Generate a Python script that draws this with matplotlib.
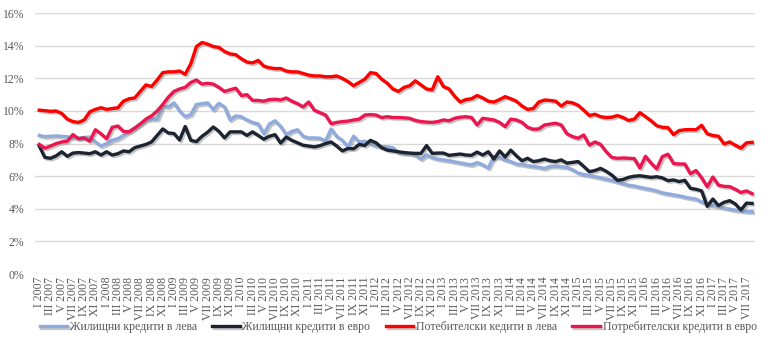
import matplotlib
matplotlib.use("Agg")
import matplotlib.pyplot as plt
import matplotlib.patheffects as pe
import numpy as np

# monthly interest rates, %, I 2007 - VIII 2017
housing_bgn = [
    8.5, 8.43, 8.45, 8.47, 8.45, 8.42, 8.38, 8.33, 8.38, 8.4, 8.1, 7.85,
    8.0, 8.2, 8.3, 8.5, 8.75, 8.95, 9.2, 9.45, 9.5, 9.5, 10.3, 10.25,
    10.5, 10.0, 9.65, 9.78, 10.4, 10.45, 10.5, 10.08, 10.47, 10.25, 9.45, 9.7,
    9.65, 9.45, 9.3, 9.2, 8.6, 9.2, 9.4, 9.05, 8.55, 8.75, 8.85, 8.45,
    8.35, 8.35, 8.33, 8.15, 8.9, 8.43, 8.2, 7.8, 8.45, 8.1, 8.15, 8.0,
    7.85, 7.82, 7.8, 7.75, 7.45, 7.4, 7.38, 7.3, 7.05, 7.3, 7.15, 7.05,
    7.0, 6.95, 6.88, 6.82, 6.75, 6.7, 6.84, 6.7, 6.5, 7.2, 7.15, 7.0,
    6.9, 6.75, 6.72, 6.65, 6.6, 6.55, 6.48, 6.6, 6.62, 6.58, 6.55, 6.4,
    6.2, 6.1, 6.05, 5.97, 5.9, 5.82, 5.75, 5.65, 5.55, 5.45, 5.4, 5.32,
    5.25, 5.18, 5.1, 4.98, 4.92, 4.86, 4.8, 4.72, 4.65, 4.6, 4.42, 4.3,
    4.2, 4.15, 4.05, 3.98, 3.92, 3.88, 3.83, 3.82,
]
housing_eur = [
    7.85, 7.15, 7.1, 7.25, 7.5, 7.22, 7.42, 7.45, 7.42, 7.38, 7.5, 7.3,
    7.5, 7.3, 7.38, 7.55, 7.5, 7.75, 7.85, 7.95, 8.1, 8.5, 8.9, 8.65,
    8.62, 8.22, 9.05, 8.2, 8.12, 8.45, 8.7, 9.02, 8.75, 8.35, 8.72, 8.72,
    8.72, 8.5, 8.72, 8.5, 8.27, 8.45, 8.55, 8.03, 8.4, 8.2, 8.05, 7.9,
    7.85, 7.8, 7.87, 8.0, 8.1, 7.85, 7.55, 7.7, 7.68, 7.95, 7.88, 8.2,
    8.05, 7.75, 7.6, 7.55, 7.5, 7.45, 7.42, 7.4, 7.4, 7.88, 7.4, 7.42,
    7.42, 7.28, 7.32, 7.36, 7.3, 7.28, 7.48, 7.3, 7.5, 7.05, 7.55, 7.18,
    7.6, 7.25, 6.95, 7.1, 6.9, 6.95, 7.05, 6.95, 6.9, 7.0, 6.8, 6.85,
    6.9, 6.6, 6.28, 6.35, 6.48, 6.3, 6.07, 5.75, 5.8, 5.93, 6.0, 6.03,
    5.98, 5.93, 5.97, 5.9, 5.73, 5.77, 5.67, 5.75, 5.26, 5.2, 5.1, 4.15,
    4.6, 4.2, 4.4, 4.5, 4.3, 3.93, 4.35, 4.33,
]
consumer_bgn = [
    10.05, 10.02, 9.98, 10.0, 9.85, 9.5, 9.35, 9.3, 9.45, 9.95, 10.1, 10.2,
    10.1, 10.15, 10.2, 10.6, 10.75, 10.8, 11.2, 11.6, 11.5, 11.9, 12.35, 12.4,
    12.4, 12.45, 12.25, 12.9, 13.95, 14.2, 14.1, 13.95, 13.9, 13.65, 13.5, 13.45,
    13.2, 13.0, 12.95, 13.1, 12.75, 12.65, 12.6, 12.6, 12.45, 12.4, 12.4, 12.3,
    12.2, 12.15, 12.15, 12.1, 12.1, 12.15, 12.0, 11.8, 11.55, 11.75, 11.95, 12.35,
    12.3, 11.95, 11.7, 11.35, 11.2, 11.45, 11.55, 11.85, 11.6, 11.35, 11.3, 12.1,
    11.5, 11.35, 10.9, 10.55, 10.7, 10.75, 10.95, 10.8, 10.6, 10.55, 10.7, 10.88,
    10.75, 10.6, 10.3, 10.1, 10.15, 10.55, 10.67, 10.65, 10.6, 10.3, 10.55, 10.5,
    10.35, 10.05, 9.72, 9.8, 9.65, 9.6, 9.62, 9.72, 9.6, 9.42, 9.5, 9.9,
    9.65, 9.4, 9.1, 9.0, 8.98, 8.55, 8.8, 8.85, 8.86, 8.85, 9.12, 8.6,
    8.5, 8.45, 7.98, 8.1, 7.9, 7.72, 8.05, 8.08,
]
consumer_eur = [
    7.95, 7.72, 7.85, 8.0, 8.1, 8.15, 8.55, 8.3, 8.35, 8.15, 8.85, 8.6,
    8.3, 9.0, 9.08, 8.75, 8.72, 8.95, 9.2, 9.5, 9.7, 10.0, 10.4, 10.85,
    11.2, 11.35, 11.45, 11.75, 11.9, 11.65, 11.7, 11.65, 11.45, 11.2, 11.3, 11.4,
    10.95, 11.0, 10.65, 10.65, 10.6, 10.7, 10.72, 10.68, 10.8, 10.6, 10.45, 10.25,
    10.55, 10.05, 9.9, 9.75, 9.22, 9.3, 9.35, 9.38, 9.45, 9.5, 9.75, 9.78,
    9.75, 9.6, 9.65, 9.6, 9.6, 9.58, 9.55, 9.42, 9.35, 9.32, 9.3, 9.35,
    9.45, 9.4, 9.55, 9.62, 9.65, 9.6, 9.14, 9.55, 9.5, 9.45, 9.3, 9.04,
    9.5, 9.45, 9.3, 9.0, 8.88, 8.9, 9.14, 9.2, 9.25, 9.14, 8.6, 8.43,
    8.33, 8.53, 7.91, 8.1, 7.95, 7.5, 7.15, 7.1, 7.12, 7.1, 7.08, 6.5,
    7.22, 6.8, 6.45, 7.2, 7.35, 6.78, 6.75, 6.75, 6.15, 6.35, 5.9, 5.35,
    5.95, 5.45, 5.38, 5.36, 5.2, 5.0, 5.1, 4.93,
]

labels = ["Жилищни кредити в лева", "Жилищни кредити в евро",
          "Потебителски кедити в лева", "Потребителски кредити в евро"]
colors = ["#8FAADC", "#1C2431", "#FF0000", "#EB1550"]
series = [housing_bgn, housing_eur, consumer_bgn, consumer_eur]

roman = ["I", "II", "III", "IV", "V", "VI", "VII", "VIII", "IX", "X", "XI", "XII"]
n = len(housing_bgn)
months = [f"{roman[i % 12]} {2007 + i // 12}" for i in range(n)]
x = np.arange(n)

plt.rcParams["font.family"] = ["Liberation Serif", "DejaVu Serif"]
fig = plt.figure(figsize=(7.68, 3.55), dpi=100)
ax = fig.add_axes([0.046, 0.228, 0.937, 0.735])

for vals, lab, col in zip(series, labels, colors):
    ax.plot(x, vals, color=col, lw=2.4, label=lab, solid_joinstyle="round",
            path_effects=[pe.SimpleLineShadow(offset=(1.2, -1.2), shadow_color="#7f7f7f", alpha=0.45),
                          pe.Normal()])

ax.set_xlim(-0.7, n - 0.5)
ax.set_ylim(0, 16)
ax.set_yticks(range(0, 17, 2))
ax.set_yticklabels([f"{v}%" for v in range(0, 17, 2)])
ax.set_xticks(x[::2])
ax.set_xticklabels(months[::2], rotation=90)
ax.tick_params(axis="both", length=0, colors="#595959", labelsize=8.5)
ax.tick_params(axis="x", pad=2)
ax.tick_params(axis="y", pad=8)
ax.grid(axis="y", color="#D9D9D9", lw=1)
ax.set_axisbelow(True)
for s in ax.spines.values():
    s.set_visible(False)

fig.legend(loc="lower left", bbox_to_anchor=(0.038, 0.032), ncol=4, frameon=False,
           fontsize=8.5, labelcolor="#595959", handlelength=2.3, handletextpad=0.25,
           columnspacing=1.3)

fig.savefig("out.png", dpi=100)
